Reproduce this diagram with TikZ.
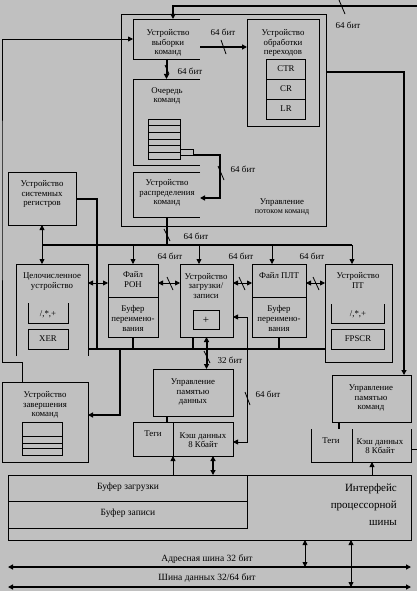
\documentclass[tikz,border=0pt]{standalone}
\usepackage{fontspec}
\setmainfont{Liberation Serif}
\usetikzlibrary{arrows.meta,fit,calc}
\definecolor{bg}{RGB}{192,192,192}
\begin{document}
\begin{tikzpicture}[x=1pt,y=-1pt,
  bx/.style={draw,line width=0.8pt,inner sep=0pt,outer sep=0pt},
  ob/.style={inner sep=0pt,outer sep=0pt},
  wire/.style={line width=0.8pt},
  fat/.style={line width=2pt},
  ah/.style={-{Triangle[length=5pt,width=5pt]}},
  ha/.style={{Triangle[length=5pt,width=5pt]}-},
  aa/.style={{Triangle[length=5pt,width=5pt]}-{Triangle[length=5pt,width=5pt]}},
  t/.style={font=\fontsize{8.8}{9.6}\selectfont,align=center,inner sep=0pt},
  tl/.style={font=\fontsize{9}{10}\selectfont,inner sep=0pt},
  tb/.style={font=\fontsize{11}{17}\selectfont,align=right,inner sep=0pt},
  tm/.style={font=\fontsize{9.5}{10}\selectfont,inner sep=0pt},
]
\fill[bg] (0,0) rectangle (417,591);
\useasboundingbox (0,0) rectangle (417,591);

% ---------- boxes ----------
\node[bx,fit={(121,14)(326,226)}] (ifu) {};
\node[ob,fit={(133,19)(200,59)}] (fetch) {};
\draw[wire] (fetch.north east) -- (fetch.north west) -- (fetch.south west) -- (fetch.south east);
\node[bx,fit={(247,19)(319,126)}] (bpu) {};
\node[bx,fit={(266,59)(305,119)}] (bstk) {};
\draw[wire] (266,79) -- (305,79) (266,99) -- (305,99);
\node[ob,fit={(133,79)(200,165)}] (queue) {};
\draw[wire] (queue.north east) -- (queue.north west) -- (queue.south west) -- (queue.south east);
\node[bx,fit={(148,119)(180,159)}] (qstk) {};
\foreach \yy in {125.7,132.3,139,145.7,152.3} \draw[wire] (148,\yy) -- (180,\yy);
\node[bx,fit={(180,149)(193,155)}] (qtab) {};
\node[ob,fit={(133,172)(200,217)}] (disp) {};
\draw[wire] (disp.north east) -- (disp.north west) -- (disp.south west) -- (disp.south east);
\node[bx,fit={(8,172)(76,225)}] (sreg) {};
\node[ob,fit={(16,264)(88,356)}] (iu) {};
\draw[wire] (iu.south west) -- (iu.north west) -- (iu.north east) -- (iu.south east);
\node[ob,fit={(28,303)(68,323)}] (iuop) {};
\draw[wire] (iuop.north west) -- (iuop.south west) -- (iuop.south east) -- (iuop.north east);
\node[bx,fit={(28,329)(68,349)}] (xer) {};
\node[bx,fit={(108,264)(158,337)}] (gpr) {};
\draw[wire] (108,297) -- (158,297);
\node[bx,fit={(180,264)(233,337)}] (lsu) {};
\node[bx,fit={(193,310)(219,329)}] (lsuadd) {};
\node[bx,fit={(252,264)(306,337)}] (fpr) {};
\draw[wire] (252,297) -- (306,297);
\node[bx,fit={(325,264)(392,362)}] (fpu) {};
\node[ob,fit={(331,304)(384,323)}] (fpuop) {};
\draw[wire] (fpuop.north west) -- (fpuop.south west) -- (fpuop.south east) -- (fpuop.north east);
\node[bx,fit={(331,329)(384,349)}] (fpscr) {};
\node[bx,fit={(2,382)(88,462)}] (cu) {};
\node[bx,fit={(22,422)(62,455)}] (cstk) {};
\foreach \yy in {436,443,448} \draw[wire] (22,\yy) -- (62,\yy);
\node[bx,fit={(153,369)(233,416)}] (dmmu) {};
\node[bx,fit={(133,422)(233,456)}] (dc) {};
\draw[wire] (173,422) -- (173,456);
\node[bx,fit={(332,375)(411,422)}] (immu) {};
\node[ob,fit={(311,429)(411,462)}] (ic) {};
\draw[wire] (ic.north west) -- (ic.south west) -- (ic.south east) -- (ic.north east);
\draw[wire] (352,429) -- (352,462);
\node[bx,fit={(8,475)(411,540)}] (biu) {};
\node[bx,fit={(8,475)(247,501)}] (lbuf) {};
\node[bx,fit={(8,501)(247,528)}] (sbuf) {};

% ---------- texts ----------
\node[t] (tfetch) at (168,43) {Устройство\\выборки\\команд};
\node[t] (tbpu) at (283,43) {Устройство\\обработки\\переходов};
\node[t] (tctr) at (286,69) {CTR};
\node[t] (tcr) at (286,89) {CR};
\node[t] (tlr) at (286,109) {LR};
\node[t] (tqueue) at (167,96) {Очередь\\команд};
\node[t] (tdisp) at (167,193) {Устройство\\распределения\\команд};
\node[t] (tifu) at (282,207) {Управление\\{\fontsize{8}{8.5}\selectfont потоком команд}};
\node[t] (tsreg) at (42,194) {Устройство\\системных\\регистров};
\node[t] (tiu) at (52,281.5) {Целочисленное\\устройство};
\node[t] (tiuop) at (48,314) {/,*,+};
\node[t] (txer) at (48,339) {XER};
\node[t] (tgpr1) at (133,279.5) {Файл\\РОН};
\node[t] (tgpr2) at (133,318.5) {Буфер\\переимено-\\вания};
\node[t] (tlsu) at (206,286) {Устройство\\загрузки/\\записи};
\node[t,font=\fontsize{11}{12}\selectfont] (tlsuadd) at (206,320) {+};
\node[t] (tfpr1) at (279,276) {Файл ПЛТ};
\node[t] (tfpr2) at (279,318.5) {Буфер\\переимено-\\вания};
\node[t] (tfpu) at (358,280.5) {Устройство\\ПТ};
\node[t] (tfpuop) at (358,314) {/,*,+};
\node[t] (tfpscr) at (358,339) {FPSCR};
\node[t] (tcu) at (45,405) {Устройство\\завершения\\команд};
\node[t] (tdmmu) at (193,392) {Управление\\памятью\\данных};
\node[t] (tdctag) at (153,434) {Теги};
\node[t] (tdc) at (203,440) {Кэш данных\\8 Кбайт};
\node[t] (timmu) at (371,398) {Управление\\памятью\\команд};
\node[t] (tictag) at (331,441) {Теги};
\node[t] (tic) at (380,446) {Кэш данных\\8 Кбайт};
\node[tm] (tlbuf) at (128,487) {Буфер загрузки};
\node[tm] (tsbuf) at (128,513) {Буфер записи};
\node[tb,anchor=east] (tbiu) at (397,505) {Интерфейс\\процессорной\\шины};
\node[tm] (tab) at (207,559) {Адресная шина 32 бит};
\node[tm] (tdb) at (207,578) {Шина данных 32/64 бит};

% bit labels
\node[tl] (l1) at (348,25) {64 бит};
\node[tl] (l2) at (223,32) {64 бит};
\node[tl] (l3) at (190,71) {64 бит};
\node[tl] (l4) at (243,169) {64 бит};
\node[tl] (l5) at (196,236) {64 бит};
\node[tl] (l6) at (170,256) {64 бит};
\node[tl] (l7) at (241,256) {64 бит};
\node[tl] (l8) at (312,256) {64 бит};
\node[tl] (l9) at (268,394) {64 бит};
\node[tl] (l10) at (230,360) {32 бит};

% ---------- connectors ----------
\coordinate (rtop) at (417,6);
\draw[fat,ah] (rtop) -| ([xshift=6.5pt]fetch.north);
\draw[wire,ah] ([xshift=-23pt]cu.north) -- ++(0,-20) -| (2,200) |- (fetch.west);
\draw[fat,ah] (fetch.east |- 0,47) -- (bpu.west |- 0,47);
\draw[fat,ah] (fetch.south) -- (queue.north);
\draw[fat,ah] (qtab.south east) -| (220,198) -- (disp.east |- 0,198);
\coordinate (busL) at (42,245);
\coordinate (busR) at (352,245);
\draw[fat] (disp.south) -- (disp.south |- busL);
\draw[fat] (busL) -- (busR);
\draw[wire,ah] (gpr.north |- busL) -- (gpr.north);
\draw[wire,ah] ([xshift=-7.5pt]lsu.north |- busL) -- ([xshift=-7.5pt]lsu.north);
\draw[wire,ah] ([xshift=-7pt]fpr.north |- busL) -- ([xshift=-7pt]fpr.north);
\draw[wire,ah] (busR) -- (busR |- fpu.north);
\draw[wire,aa] (sreg.south) -- (sreg.south |- iu.north);
\draw[fat] (sreg.east) -| (97,349);
\draw[wire,aa] (iu.east |- 0,283) -- (gpr.west |- 0,283);
\draw[wire,aa] (gpr.east |- 0,283) -- (lsu.west |- 0,283);
\draw[wire,aa] (lsu.east |- 0,283) -- (fpr.west |- 0,283);
\draw[wire,aa] (fpr.east |- 0,283) -- (fpu.west |- 0,283);
\draw[fat] (iu.east |- 0,349) -- (fpu.west |- 0,349);
\draw[fat] (gpr.south) -- (gpr.south |- 0,349);
\draw[fat] ([xshift=-13.5pt]lsu.south) -- ([xshift=-13.5pt]lsu.south |- 0,349);
\draw[fat] (fpr.south) -- (fpr.south |- 0,349);
\draw[fat,ah] (120,349) |- (cu.east |- 0,415);
\draw[fat,aa] (lsu.south) -- (lsu.south |- dmmu.north);
\draw[fat] ([xshift=-26pt]dmmu.south) -- ([xshift=-26pt]dmmu.south |- dc.north);
\draw[wire,aa] (dc.east |- 0,442) -| (247,317) -- (lsu.east |- 0,317);
\draw[wire,ha] (dc.south -| 173,0) -- (biu.north -| 173,0);
\draw[fat,aa] (dc.south -| 213,0) -- (biu.north -| 213,0);
\draw[fat,ah] (ifu.east |- 0,72) -| ([xshift=32.5pt]immu.north);
\draw[fat] (immu.south -| 339,0) -- (ic.north -| 339,0);
\draw[wire] (ic.east |- 0,449) -- (417,449);
\draw[wire,ah] (biu.north -| 372,0) -- (ic.south -| 372,0);
\coordinate (ab1) at (8,567); \coordinate (ab2) at (411,567);
\coordinate (db1) at (8,587); \coordinate (db2) at (411,587);
\draw[fat,aa] (ab1) -- (ab2);
\draw[fat,aa] (db1) -- (db2);
\draw[wire,aa] (biu.south -| 305,0) -- (305,567);
\draw[wire,aa] (biu.south -| 351,0) -- (351,587);

% ---------- bus-width slashes ----------
\draw[wire] (339,0) -- (345,14);
\draw[wire] (221,40) -- (226,54);
\draw[wire] (165,65) -- (169,74);
\draw[wire] (218,166) -- (224,180);
\draw[wire] (164,229) -- (170,241);
\draw[wire] (167,277) -- (173,290);
\draw[wire] (239,277) -- (245,290);
\draw[wire] (313,277) -- (319,290);
\draw[wire] (204,351) -- (210,363);
\draw[wire] (245,392) -- (250,405);
\end{tikzpicture}
\end{document}
